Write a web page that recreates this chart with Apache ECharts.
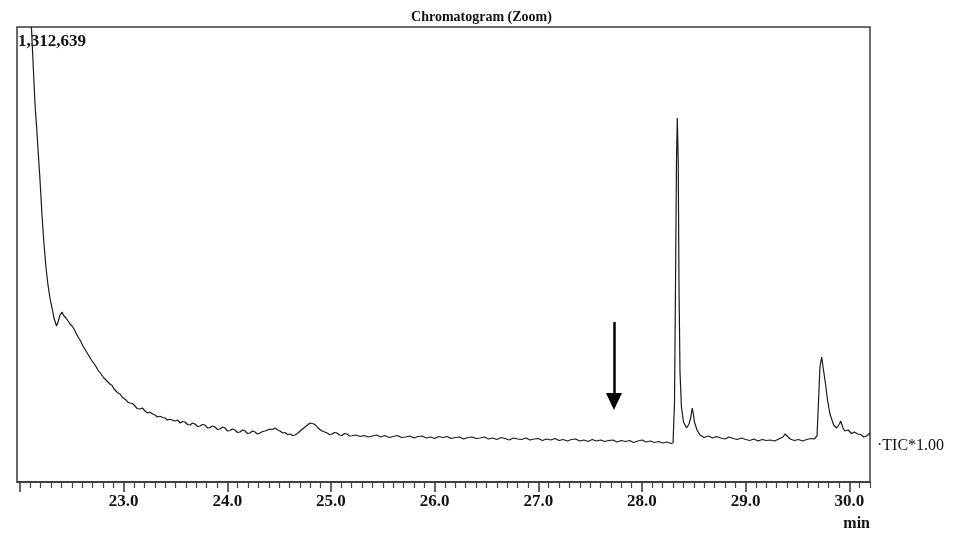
<!DOCTYPE html>
<html><head><meta charset="utf-8">
<script src="https://cdn.jsdelivr.net/npm/echarts@6/dist/echarts.min.js"></script>
<style>html,body{margin:0;padding:0;background:#fff}#c{width:963px;height:539px}</style>
</head><body><div id="c"></div>
<script>
// Retention time (min)
const times = [
22.110,22.125,22.145,22.159,22.174,22.193,22.212,22.232,22.251,22.270,22.289,22.309,22.328,22.352,22.367,22.386,22.405,22.424,22.444,22.463,
22.482,22.502,22.521,22.540,22.560,22.579,22.608,22.637,22.652,22.666,22.695,22.724,22.738,22.752,22.781,22.796,22.810,22.839,22.868,22.888,
22.907,22.945,22.965,22.984,23.023,23.040,23.061,23.085,23.109,23.130,23.158,23.180,23.206,23.230,23.254,23.280,23.302,23.325,23.351,23.375,
23.399,23.420,23.447,
23.495,23.520,23.544,23.568,23.592,23.616,23.640,23.664,23.688,23.712,23.736,23.760,23.785,23.809,23.833,23.857,23.881,23.905,23.929,23.953,
23.978,24.002,24.026,24.050,24.074,24.098,24.122,24.146,24.171,24.195,24.219,24.243,24.267,24.291,24.315,24.340,24.364,24.388,24.412,24.436,
24.460,24.485,24.509,24.533,24.557,24.581,24.605,24.629,24.653,24.677,24.702,24.726,24.750,24.774,24.798,24.817,24.836,24.856,24.875,24.894,
24.913,24.938,24.962,24.986,25.010,25.034,25.058,25.082,25.106,25.130,25.155,25.179,25.203,
25.24,25.28,25.32,25.36,25.40,25.44,25.48,25.52,25.56,25.60,25.64,25.68,25.72,25.76,25.80,25.84,25.88,25.92,25.96,26.00,
26.04,26.08,26.12,26.16,26.20,26.24,26.28,26.32,26.36,26.40,26.44,26.48,26.52,26.56,26.60,26.64,26.68,26.72,26.76,26.80,
26.84,26.88,26.92,26.96,27.00,27.04,27.08,27.12,27.16,27.20,27.24,27.28,27.32,27.36,27.40,27.44,27.48,27.52,27.56,27.60,
27.64,27.68,27.72,27.76,27.80,27.84,27.88,27.92,27.96,28.00,28.04,28.08,28.12,28.16,28.20,28.24,28.28,28.300,
28.314,28.324,28.333,28.341,28.350,28.357,28.367,28.381,28.401,28.430,28.454,28.470,28.485,28.496,28.506,28.531,28.560,
28.60,28.64,28.68,28.72,28.76,28.80,28.84,28.88,28.92,28.96,29.00,29.04,29.08,29.12,29.16,29.20,29.24,29.28,29.32,29.36,
29.38,29.40,29.43,29.47,29.51,29.55,29.59,29.63,29.66,29.689,
29.703,29.717,29.734,29.751,29.771,29.790,29.814,29.833,29.850,29.862,29.878,29.891,29.905,29.917,29.930,29.940,29.957,29.973,29.990,30.007,
30.022,30.036,30.050,30.065,30.080,30.094,30.110,30.123,30.140,30.152,30.168,30.181,30.200
];
// Total ion current (counts)
const intensities = [
1312639,1217500,1087600,1029900,957800,871300,770300,683700,617400,568300,530800,502000,473100,450100,461600,481800,490500,478900,473100,464500,
455800,450100,441400,429900,418300,409700,392400,377900,375100,363500,349100,337500,334700,323100,311600,308700,300000,291400,282700,278400,
268300,256800,253900,245200,236600,230500,228000,226500,219300,212000,210600,213500,204800,199000,201500,196000,193300,187500,189800,186000,
184600,179000,181000,
176000,178900,170200,174500,173100,165900,164400,170200,167300,160100,161600,165900,164400,155800,157000,161600,158700,151500,152900,158700,
155800,147100,148500,152900,150000,142800,144300,150000,147100,139900,141400,147100,144300,138500,141400,145700,147100,150000,152900,151500,
155800,150000,147100,141400,142800,137000,138500,134200,135600,139900,147100,152900,158700,164400,170200,173100,167300,163000,155800,152900,
147100,144300,141400,137000,138500,142800,141400,135600,134200,139900,138500,132700,133500,
135600,131300,134200,129800,132700,135600,129800,134200,128400,131300,134200,128400,129800,132700,126900,131300,132700,126900,129800,125500,
131300,128400,131300,125500,128400,129800,124100,128400,129800,125500,126900,129800,124100,126900,122600,128400,125500,121200,126900,124100,
122600,126900,121200,124100,125500,119700,124100,121200,125500,119700,122600,118300,122600,124100,118300,121200,116800,122600,118300,121200,
116800,119700,121200,115400,119700,116800,119700,114000,118300,121200,115400,118300,114000,116800,112500,115400,111100,112500,
230800,577000,923200,1050100,923200,577000,317400,216400,173100,155800,167300,184600,213500,196200,173100,150000,135600,
128400,132700,126900,131300,126900,124100,129800,125500,122600,126900,122600,119700,124100,118300,122600,119700,121200,118300,124100,129800,
138500,132700,124100,119700,122600,118300,122600,125500,124100,132700,
230800,331800,360600,323100,282700,236600,196200,178900,164400,161600,155800,158700,167300,176000,164400,155800,147100,144300,150000,147100,
139900,138500,144300,147100,138500,141400,137000,135600,129800,126900,132700,135600,141400
];
const xMajorTicks = [22, 23, 24, 25, 26, 27, 28, 29, 30];
const xTickLabels = [23, 24, 25, 26, 27, 28, 29, 30];
const xMin = 21.971, xMax = 30.2;
const yMax = 1312639;
const yMaxLabel = '1,312,639';
const titleText = 'Chromatogram (Zoom)';
const ticLabel = '\u00b7TIC*1.00';
const unitLabel = 'min';
const arrowTime = 27.73, arrowFrom = 461600, arrowTo = 232200;

const minorTicks = [];
for (let k = 221; k <= 302; k++) { if (k % 10 !== 0) minorTicks.push(k / 10); }

const serif = 'Liberation Serif';
const data = times.map((t, i) => [t, intensities[i]]);

const chart = echarts.init(document.getElementById('c'));
chart.setOption({
  animation: false,
  backgroundColor: '#fff',
  title: {
    text: titleText, left: 'center', top: 5,
    textStyle: { fontFamily: serif, fontSize: 14, fontWeight: 'bold', color: '#111' }
  },
  grid: {
    left: 17, right: 93, top: 27, bottom: 57, show: true,
    borderColor: '#3a3a3a', borderWidth: 1.5, backgroundColor: 'transparent'
  },
  xAxis: [{
    type: 'value', min: xMin, max: xMax, position: 'bottom',
    axisLine: { show: true, lineStyle: { color: '#333', width: 1.5 } },
    axisTick: { show: true, customValues: xMajorTicks, length: 10, inside: false, lineStyle: { color: '#333', width: 1.5 } },
    axisLabel: { customValues: xTickLabels, formatter: v => v.toFixed(1), margin: 11,
      fontFamily: serif, fontSize: 17, fontWeight: 'bold', color: '#111' },
    splitLine: { show: false }
  }, {
    type: 'value', min: xMin, max: xMax, position: 'bottom', gridIndex: 0,
    axisLine: { show: false },
    axisTick: { show: true, customValues: minorTicks, length: 6, lineStyle: { color: '#444', width: 1.2 } },
    axisLabel: { show: false },
    splitLine: { show: false }
  }],
  yAxis: { type: 'value', min: 0, max: yMax, show: false, splitLine: { show: false } },
  series: [{
    type: 'line', data: data, xAxisIndex: 0, showSymbol: false, symbol: 'none',
    lineStyle: { color: '#1a1a1a', width: 1.2 },
    markLine: {
      silent: true, symbol: ['none', 'triangle'], symbolSize: [16, 17],
      label: { show: false },
      lineStyle: { color: '#000', width: 2.5, type: 'solid' },
      data: [[{ coord: [arrowTime, arrowFrom] }, { coord: [arrowTime, arrowTo] }]]
    }
  }],
  graphic: [
    { type: 'text', left: 18, top: 33, style: { text: yMaxLabel, fontFamily: serif, fontSize: 17, fontWeight: 'bold', fill: '#111' } },
    { type: 'text', left: 877, top: 438, style: { text: ticLabel, fontFamily: serif, fontSize: 16, fill: '#111' } },
    { type: 'text', right: 93, top: 516, style: { text: unitLabel, fontFamily: serif, fontSize: 16, fontWeight: 'bold', fill: '#111' } }
  ]
});
</script>
</body></html>
